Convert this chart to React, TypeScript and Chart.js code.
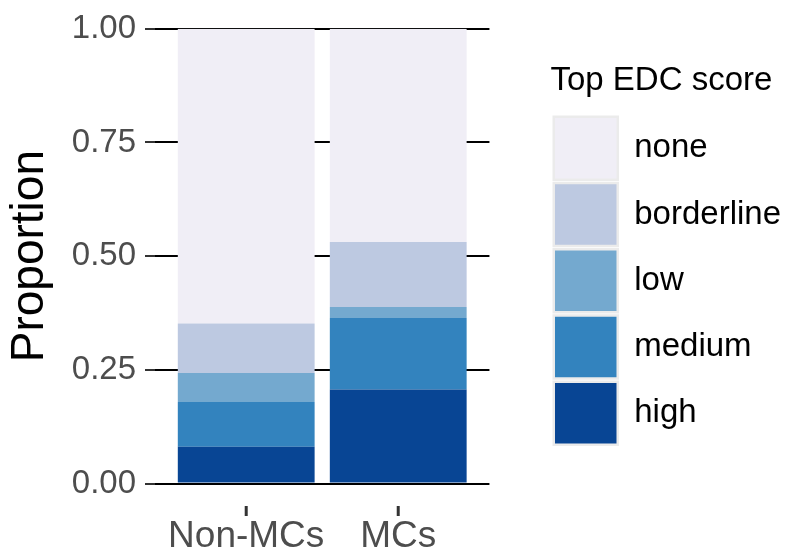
import React, { useEffect, useRef } from "react";
import { Chart, registerables } from "chart.js";

Chart.register(...registerables);

const categories = ["Non-MCs", "MCs"];
const scoreLevels = ["high", "medium", "low", "borderline", "none"];
const highValues = [0.081, 0.207];
const mediumValues = [0.098, 0.157];
const lowValues = [0.064, 0.024];
const borderlineValues = [0.109, 0.143];
const noneValues = [0.648, 0.469];
const yTicks = [0, 0.25, 0.5, 0.75, 1.0];

const levelValues = [highValues, mediumValues, lowValues, borderlineValues, noneValues];
const levelColors = ["#084594", "#3383be", "#74a9cf", "#bdc9e1", "#f0eef6"];

const FONT = "'Liberation Sans', Arial, Helvetica, sans-serif";

const xTickMarks = {
  id: "xTickMarks",
  afterDraw(chart: any) {
    const x = chart.scales.x;
    const area = chart.chartArea;
    const ctx = chart.ctx;
    ctx.save();
    ctx.strokeStyle = "#333333";
    ctx.lineWidth = 3;
    x.ticks.forEach((t: any) => {
      const px = x.getPixelForValue(t.value);
      ctx.beginPath();
      ctx.moveTo(px, area.bottom + 22.5);
      ctx.lineTo(px, area.bottom + 32.5);
      ctx.stroke();
    });
    ctx.restore();
  },
};

export default function App() {
  const ref = useRef<HTMLCanvasElement>(null);
  useEffect(() => {
    if (!ref.current) return;
    Chart.defaults.font.family = FONT;
    const datasets = scoreLevels.map((lvl, k) => ({
      label: lvl,
      data: categories.map((_, i) => ({ x: i, y: levelValues[k][i] })),
      backgroundColor: levelColors[k],
      borderWidth: 0,
      barPercentage: 1,
      categoryPercentage: 0.9,
    }));
    const chart = new Chart(ref.current, {
      type: "bar",
      data: { datasets },
      plugins: [xTickMarks],
      options: {
        animation: false,
        responsive: false,
        devicePixelRatio: 1,
        layout: { padding: { top: 26.5, bottom: 0, left: 0, right: 0 } },
        plugins: {
          tooltip: { enabled: false },
          legend: {
            position: "right",
            fullSize: false,
            reverse: true,
            maxWidth: 400,
            title: {
              display: true,
              text: "Top EDC score",
              position: "start",
              color: "#000000",
              font: { size: 33, family: FONT },
              padding: { top: 0, bottom: 9.6 },
            },
            labels: {
              boxWidth: 64,
              boxHeight: 63,
              padding: 3.3,
              color: "#000000",
              font: { size: 33, family: FONT },
              generateLabels: (chart: any) =>
                Chart.defaults.plugins.legend.labels
                  .generateLabels(chart)
                  .map((l: any) => ({ ...l, strokeStyle: "#ebebeb", lineWidth: 2.5 })),
            },
          },
        },
        scales: {
          x: {
            type: "linear",
            stacked: true,
            offset: false,
            min: -0.6,
            max: 1.6,
            afterBuildTicks: (s: any) => {
              s.ticks = categories.map((_, i) => ({ value: i }));
            },
            afterFit: (s: any) => {
              s.height = 72.5;
            },
            grid: { display: false, drawTicks: false, offset: false },
            border: { display: false },
            ticks: {
              autoSkip: false,
              maxRotation: 0,
              padding: 31,
              color: "#4d4d4d",
              font: { size: 37, family: FONT },
              callback: (v: any) => categories[Math.round(Number(v))] ?? "",
            },
          },
          y: {
            type: "linear",
            stacked: true,
            min: 0,
            max: 1,
            afterBuildTicks: (s: any) => {
              s.ticks = yTicks.map((v) => ({ value: v }));
            },
            afterFit: (s: any) => {
              s.width = 155;
            },
            grid: {
              color: "#000000",
              lineWidth: 2,
              tickColor: "#333333",
              tickWidth: 2,
              tickLength: 10,
              drawTicks: true,
            },
            border: { display: false },
            ticks: {
              padding: 9,
              color: "#4d4d4d",
              font: { size: 33, family: FONT },
              callback: (v: any) => Number(v).toFixed(2),
            },
            title: {
              display: true,
              text: "Proportion",
              color: "#000000",
              font: { size: 46, family: FONT },
              padding: { top: 2.5, bottom: 0 },
            },
          },
          yRight: {
            type: "linear",
            position: "right",
            display: true,
            grid: { display: false, drawTicks: false },
            border: { display: false },
            ticks: { display: false },
            afterFit: (s: any) => {
              s.width = 61;
            },
          },
        },
      } as any,
    });
    return () => chart.destroy();
  }, []);
  return (
    <div style={{ position: "fixed", left: 0, top: 0, width: 791, height: 556, background: "#ffffff" }}>
      <canvas ref={ref} width={791} height={556} />
    </div>
  );
}
